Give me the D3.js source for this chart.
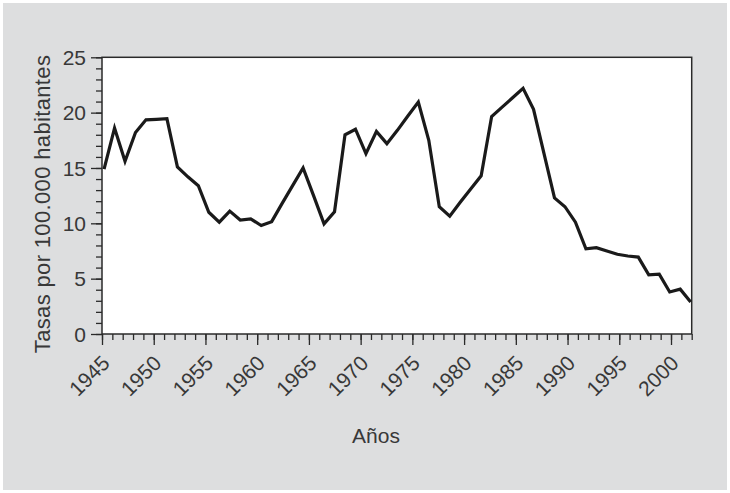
<!DOCTYPE html>
<html>
<head>
<meta charset="utf-8">
<script src="https://cdn.jsdelivr.net/npm/d3@7"></script>
<style>
  html, body { margin: 0; padding: 0; background: #ffffff; }
  svg { display: block; }
  text { font-family: "Liberation Sans", Arial, sans-serif; fill: #383838; }
</style>
</head>
<body>
<svg id="chart" width="730" height="493"></svg>
<script>
const years = d3.range(1945, 2002);
const rates = [
  14.9, 18.6, 15.6, 18.2, 19.35, 19.4, 19.45, 15.1, 14.2, 13.4,
  11.0, 10.1, 11.1, 10.3, 10.4, 9.8, 10.15, 11.8, 13.4, 15.0,
  12.5, 9.95, 11.05, 18.0, 18.5, 16.3, 18.3, 17.2, 18.4, 19.7,
  20.95, 17.5, 11.5, 10.65, 11.9, 13.1, 14.3, 19.65, 20.5, 21.35,
  22.2, 20.3, 16.3, 12.3, 11.5, 10.1, 7.7, 7.8, 7.5, 7.2,
  7.05, 6.95, 5.35, 5.4, 3.8, 4.05, 2.9
];
const xTickLabels = ["1945","1950","1955","1960","1965","1970","1975","1980","1985","1990","1995","2000"];
const yTickLabels = ["0","5","10","15","20","25"];
const yLabel = "Tasas por 100.000 habitantes";
const xLabel = "Años";

const svg = d3.select("#chart");
const W = 730, H = 493;
const m = {left: 102, right: 730 - 691.7, top: 57.3, bottom: 493 - 334};

svg.append("rect").attr("x", 3).attr("y", 3).attr("width", W - 6).attr("height", H - 6)
  .attr("fill", "#dddedf");

const x = d3.scaleLinear().domain([1945, 2002]).range([m.left, W - m.right]);
const xData = d3.scaleLinear().domain([1945, 2001]).range([x(1945.2), x(2001.9)]);
const y = d3.scaleLinear().domain([0, 25]).range([H - m.bottom, m.top]);

// plot area
svg.append("rect").attr("x", x(1945)).attr("y", y(25))
  .attr("width", x(2002) - x(1945)).attr("height", y(0) - y(25))
  .attr("fill", "#fff").attr("stroke", "#2a2a2a").attr("stroke-width", 1.5);

// x ticks
const gx = svg.append("g").attr("transform", `translate(0,${y(0)})`);
gx.call(d3.axisBottom(x).tickValues(d3.range(1945, 2003)).tickSize(6).tickFormat(""))
  .call(g => g.select(".domain").remove())
  .call(g => g.selectAll("line").attr("stroke", "#2a2a2a").attr("stroke-width", 1.3));
const gxM = svg.append("g").attr("transform", `translate(0,${y(0)})`);
gxM.call(d3.axisBottom(x).tickValues(xTickLabels.map(Number)).tickSize(11).tickFormat(""))
  .call(g => g.select(".domain").remove())
  .call(g => g.selectAll("line").attr("stroke", "#2a2a2a").attr("stroke-width", 1.3));

gxM.selectAll(".xl").data(xTickLabels).enter().append("text")
  .attr("class", "xl")
  .attr("transform", d => `translate(${x(+d) + 9},${30.5}) rotate(-45)`)
  .attr("text-anchor", "end")
  .attr("font-size", 21)
  .text(d => d);

// y ticks
const gy = svg.append("g").attr("transform", `translate(${x(1945)},0)`);
gy.call(d3.axisLeft(y).tickValues(d3.range(0, 26)).tickSize(6).tickFormat(""))
  .call(g => g.select(".domain").remove())
  .call(g => g.selectAll("line").attr("stroke", "#2a2a2a").attr("stroke-width", 1.3));
const gyM = svg.append("g").attr("transform", `translate(${x(1945)},0)`);
gyM.call(d3.axisLeft(y).tickValues(yTickLabels.map(Number)).tickSize(11).tickFormat(""))
  .call(g => g.select(".domain").remove())
  .call(g => g.selectAll("line").attr("stroke", "#2a2a2a").attr("stroke-width", 1.3));
gyM.selectAll(".yl").data(yTickLabels).enter().append("text")
  .attr("class", "yl")
  .attr("x", -16).attr("y", d => y(+d)).attr("dy", "0.36em")
  .attr("text-anchor", "end").attr("font-size", 21)
  .text(d => d);

// line
const line = d3.line().x((d, i) => xData(years[i])).y(d => y(d)).curve(d3.curveLinear);
svg.append("path").datum(rates).attr("d", line)
  .attr("fill", "none").attr("stroke", "#1a1a1a").attr("stroke-width", 3.2)
  .attr("stroke-linejoin", "miter");

// axis titles
svg.append("text").attr("transform", `translate(50,204) rotate(-90)`)
  .attr("text-anchor", "middle").attr("font-size", 22).attr("letter-spacing", 0.35)
  .text(yLabel);
svg.append("text").attr("x", 376).attr("y", 443)
  .attr("text-anchor", "middle").attr("font-size", 21).text(xLabel);
</script>
</body>
</html>
